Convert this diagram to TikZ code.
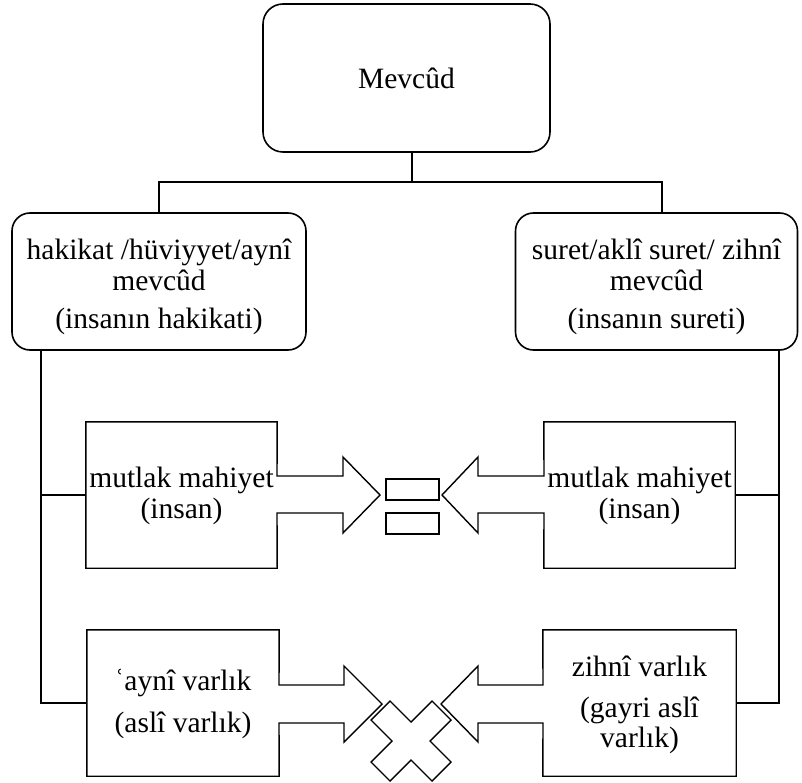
\documentclass[tikz,border=0pt]{standalone}
\usepackage{fontspec}
\setmainfont{Liberation Serif}
\begin{document}
\begin{tikzpicture}[x=1pt,y=-1pt,line join=miter]
\useasboundingbox (0,0) rectangle (802,783);
\tikzset{
  rbox/.style={draw, line width=1.6pt, rounded corners=20pt, inner sep=0pt},
  conn/.style={line width=1.3pt},
  callout/.style={draw, line width=1.4pt},
  area/.style={inner sep=0pt},
  txt/.style={font=\fontsize{29.5}{30.5}\selectfont, align=center, inner sep=0pt}
}
% top
\node[rbox, minimum width=287pt, minimum height=148pt, txt] (top) at (406.5,78) {Mevcûd};
\node[rbox, rounded corners=18pt, minimum width=294pt, minimum height=137pt] (L) at (159,281.5) {};
\node[txt] (Lt) at (159,287) {hakikat /hüviyyet/aynî\\mevcûd\\[8pt](insanın hakikati)};
\node[rbox, rounded corners=18pt, minimum width=282pt, minimum height=137pt] (R) at (656.5,281.5) {};
\node[txt] (Rt) at (656.5,287) {suret/aklî suret/ zihnî\\mevcûd\\[8pt](insanın sureti)};
\coordinate (hub) at (412,182);
\coordinate (rstem) at (662,213);
\coordinate (lvx) at (41,0);
\coordinate (rvx) at (779,0);
\draw[conn] (top.south -| hub) -- (hub);
\draw[conn] (L.north) -- (L.north |- hub) -- (hub -| rstem) -- (rstem);
% callout areas
\node[area, minimum width=191pt, minimum height=146pt] (M1) at (181.5,495) {};
\node[area, minimum width=191pt, minimum height=146pt] (M2) at (639.5,495) {};
\node[area, minimum width=192pt, minimum height=146pt] (B1) at (183,703) {};
\node[area, minimum width=193pt, minimum height=146pt] (B2) at (639.5,703) {};
\draw[callout] (M1.north west) -- (M1.north east) -- (277,476) -- (343,476) -- (343,457) -- (380,495) -- (343,533) -- (343,513) -- (277,513) -- (M1.south east) -- (M1.south west) -- cycle;
\draw[callout] (M2.north east) -- (M2.north west) -- (544,476) -- (478,476) -- (478,457) -- (442,495) -- (478,533) -- (478,513) -- (544,513) -- (M2.south west) -- (M2.south east) -- cycle;
\draw[callout] (B1.north west) -- (B1.north east) -- (279,685) -- (344,685) -- (344,666) -- (382,704) -- (344,742) -- (344,723) -- (279,723) -- (B1.south east) -- (B1.south west) -- cycle;
\draw[callout] (B2.north east) -- (B2.north west) -- (543,685) -- (478,685) -- (478,666) -- (441,704) -- (478,742) -- (478,723) -- (543,723) -- (B2.south west) -- (B2.south east) -- cycle;
\node[txt] (M1t) at (181.5,496) {mutlak mahiyet\\(insan)};
\node[txt] (M2t) at (639.5,496) {mutlak mahiyet\\(insan)};
\node[txt] (B1t) at (183,704) {ʿaynî varlık\\[11pt](aslî varlık)};
\node[txt] (B2t) at (639.5,705) {zihnî varlık\\[10pt](gayri aslî\\varlık)};
% equals sign
\node[draw, line width=1.4pt, minimum width=53pt, minimum height=21pt, inner sep=0pt] (eq1) at (412.5,489.5) {};
\node[draw, line width=1.4pt, minimum width=53pt, minimum height=21pt, inner sep=0pt] (eq2) at (412.5,523.5) {};
% cross
\draw[callout, shift={(411,741)}] (0,-19) -- (-21,-40) -- (-40,-21) -- (-19,0) -- (-40,21) -- (-21,40) -- (0,19) -- (21,40) -- (40,21) -- (19,0) -- (40,-21) -- (21,-40) -- cycle;
% side connectors
\draw[conn] (L.south -| lvx) -- (lvx |- B1.west) -- (B1.west);
\draw[conn] (lvx |- M1.west) -- (M1.west);
\draw[conn] (R.south -| rvx) -- (rvx |- B2.east) -- (B2.east);
\draw[conn] (rvx |- M2.east) -- (M2.east);
\end{tikzpicture}
\end{document}
